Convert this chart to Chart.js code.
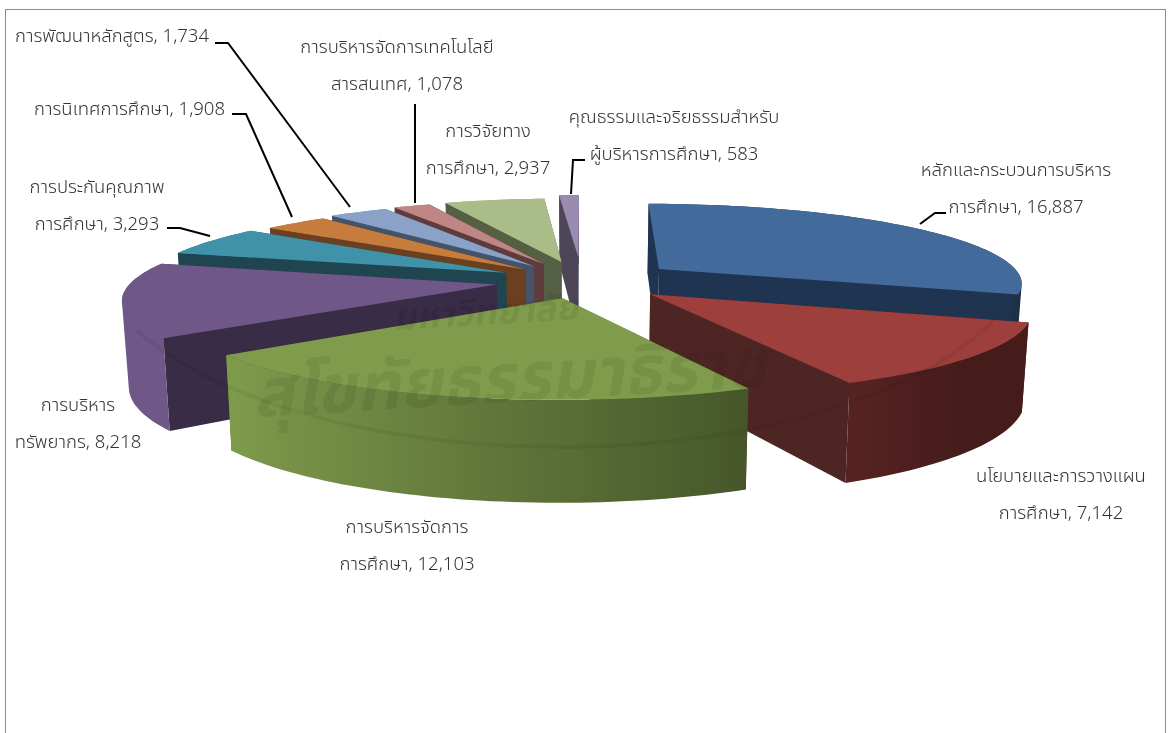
<!DOCTYPE html>
<html>
<head>
<meta charset="utf-8">
<style>
  html, body { margin: 0; padding: 0; background: #fff; }
  canvas { display: block; }
</style>
<script src="https://cdn.jsdelivr.net/npm/chart.js@4/dist/chart.umd.min.js"></script>
</head>
<body>
<canvas id="myChart" width="1168" height="733"></canvas>
<script>
// data
const categories = [
  ['หลักและกระบวนการบริหาร', 'การศึกษา'],
  ['นโยบายและการวางแผน', 'การศึกษา'],
  ['การบริหารจัดการ', 'การศึกษา'],
  ['การบริหาร', 'ทรัพยากร'],
  ['การประกันคุณภาพ', 'การศึกษา'],
  ['การนิเทศการศึกษา'],
  ['การพัฒนาหลักสูตร'],
  ['การบริหารจัดการเทคโนโลยี', 'สารสนเทศ'],
  ['การวิจัยทาง', 'การศึกษา'],
  ['คุณธรรมและจริยธรรมสำหรับ', 'ผู้บริหารการศึกษา'],
];
const values = [16887, 7142, 12103, 8218, 3293, 1908, 1734, 1078, 2937, 583];

// styles
const topColors = ['#426b9c', '#9c3f3d', '#7f9c4c', '#6f5788', '#3f92a8', '#c67c3c', '#8aa2c8', '#c08686', '#aabd88', '#9a8bb2'];
const wallColors = ['#1f3450', '#4d2624', '#4a5e30', '#382c46', '#1f4550', '#6a4020', '#44526a', '#5e3c3c', '#545f44', '#4c4658'];
const explode = [97, 89, 79, 86, 86, 79, 86, 90, 93, 114];
const drawOrder = [9, 8, 7, 6, 5, 4, 3, 0, 1, 2];

// label layout: [x, y of first line, align]
const labelPos = [
  [1016, 172, 'center'], [1061, 478, 'center'], [407, 529, 'center'], [78, 407, 'center'], [97, 189, 'center'],
  [225, 111, 'right'], [209, 38, 'right'], [397, 49, 'center'], [488, 133, 'center'], [674, 119, 'center'],
];
const leaders = {
  0: [[946, 213], [935, 213], [920, 224]],
  4: [[167, 228], [180, 228], [210, 236]],
  5: [[232, 114], [246, 114], [292, 217]],
  6: [[215, 43], [228, 43], [350, 207]],
  7: [[415, 104], [415, 203]],
  9: [[585, 160], [573, 160], [571, 194]],
};

const PIE_X = 582, PIE_Y = 281, R_PX = 365, PERSP = 0.16, TILT = 0.217, DEPTH = 83, FOOT = 0.985;
const FONT = '300 18.5px "Noto Sans Thai", "Noto Sans Thai Looped", "Noto Sans", "Liberation Sans", sans-serif';

function shade(hex, f) {
  const n = parseInt(hex.slice(1), 16);
  return 'rgb(' + [(n >> 16) & 255, (n >> 8) & 255, n & 255].map(c => Math.round(c * f)).join(',') + ')';
}

// perspective projection of a point on the pie plane, in pixels from the pie centre
function project(U, V) {
  const s = 1 / (1 - PERSP * V / R_PX);
  const x = PIE_X + U * s;
  const y = PIE_Y + TILT * V * s;
  return { x, y, bx: PIE_X + (x - PIE_X) * FOOT, by: y + DEPTH * s };
}

function fillPoly(ctx, pts, color) {
  ctx.beginPath();
  pts.forEach((p, i) => i ? ctx.lineTo(p[0], p[1]) : ctx.moveTo(p[0], p[1]));
  ctx.closePath();
  ctx.fillStyle = color;
  ctx.fill();
}

// angles along a slice's rim, with nodes at the left and right extremes so the wall splits cleanly
function rimAngles(start, end) {
  const steps = Math.max(2, Math.ceil((end - start) * 40));
  const list = [];
  for (let k = 0; k <= steps; k++) list.push(start + (end - start) * k / steps);
  [0, Math.PI, 2 * Math.PI].forEach(a => { if (a > start && a < end) list.push(a); });
  return list.sort((a, b) => a - b);
}

// rim wall as one path of same-handed quads, so it has no seams and no hole where it folds
function fillRimWall(ctx, part, color) {
  ctx.beginPath();
  for (let k = 0; k < part.length - 1; k++) {
    const a = part[k].p, b = part[k + 1].p;
    let quad = [[a.x, a.y], [b.x, b.y], [b.bx, b.by], [a.bx, a.by]];
    let area = 0;
    quad.forEach((q, n) => {
      const r = quad[(n + 1) % 4];
      area += q[0] * r[1] - r[0] * q[1];
    });
    if (area < 0) quad = quad.reverse();
    quad.forEach((q, n) => n ? ctx.lineTo(q[0], q[1]) : ctx.moveTo(q[0], q[1]));
    ctx.closePath();
  }
  ctx.fillStyle = color;
  ctx.fill();
}

function drawSlice(ctx, arc, i) {
  const mid = (arc.startAngle + arc.endAngle) / 2;
  const off = arc.options.offset;
  const ox = Math.cos(mid) * off, oy = Math.sin(mid) * off;
  const rim = rimAngles(arc.startAngle, arc.endAngle).map(a => (
    { a, p: project(ox + Math.cos(a) * R_PX, oy + Math.sin(a) * R_PX) }
  ));
  const apex = project(ox, oy);
  const wall = (a, b, c) => fillPoly(ctx, [[a.x, a.y], [b.x, b.y], [b.bx, b.by], [a.bx, a.by]], c);
  const rimWall = (front) => {
    const part = rim.filter(r => front ? Math.sin(r.a) > -1e-9 : Math.sin(r.a) < 1e-9);
    if (part.length < 2) return;
    const x0 = Math.min(...part.map(r => r.p.x)), x1 = Math.max(...part.map(r => r.p.x));
    const grad = ctx.createLinearGradient(x0, 0, x1, 0);
    part.forEach(r => {
      // light comes from the left
      const t = Math.min(1, Math.max(0, (Math.cos(r.a) + 0.8) / 1.5));
      grad.addColorStop((r.p.x - x0) / (x1 - x0), shade(topColors[i], 1 - 0.55 * t));
    });
    fillRimWall(ctx, part, grad);
  };
  rimWall(false);
  wall(apex, rim[0].p, wallColors[i]);
  wall(apex, rim[rim.length - 1].p, wallColors[i]);
  rimWall(true);
  fillPoly(ctx, [[apex.x, apex.y]].concat(rim.map(r => [r.p.x, r.p.y])), topColors[i]);
}

// faint seal of the scanned page, lies over the whole picture
function drawWatermark(ctx) {
  ctx.save();
  ctx.strokeStyle = 'rgba(0,0,0,0.05)';
  ctx.lineWidth = 4;
  ctx.beginPath();
  ctx.ellipse(560, 240, 470, 207, 0, 0.35, Math.PI - 0.45);
  ctx.stroke();
  ctx.fillStyle = 'rgba(0,0,0,0.07)';
  ctx.textAlign = 'center';
  ctx.textBaseline = 'middle';
  ctx.translate(510, 388);
  ctx.rotate(-0.06);
  ctx.font = 'italic 700 68px "Noto Sans Thai", "Noto Sans", sans-serif';
  ctx.fillText('สุโขทัยธรรมาธิราช', 0, 0, 590);
  ctx.font = 'italic 700 36px "Noto Sans Thai", "Noto Sans", sans-serif';
  ctx.fillText('มหาวิทยาลัย', -20, -72, 240);
  ctx.restore();
}

const pie3d = {
  id: 'pie3d',
  beforeDatasetsDraw(chart) {
    const ctx = chart.ctx;
    const arcs = chart.getDatasetMeta(0).data;
    ctx.save();
    ctx.strokeStyle = '#8c8c8c';
    ctx.lineWidth = 1;
    ctx.strokeRect(5.5, 9.5, 1160, 800);
    drawOrder.forEach(i => drawSlice(ctx, arcs[i], i));
    ctx.restore();
    return false;
  },
  afterDraw(chart) {
    const ctx = chart.ctx;
    drawWatermark(ctx);
    ctx.save();
    ctx.strokeStyle = '#000';
    ctx.lineWidth = 2;
    Object.values(leaders).forEach(pts => {
      ctx.beginPath();
      pts.forEach((p, k) => k ? ctx.lineTo(p[0], p[1]) : ctx.moveTo(p[0], p[1]));
      ctx.stroke();
    });
    ctx.font = FONT;
    ctx.fillStyle = '#333';
    ctx.textBaseline = 'middle';
    categories.forEach((lines, i) => {
      const [x, y, align] = labelPos[i];
      const text = lines.slice();
      text[text.length - 1] += ', ' + values[i].toLocaleString('en-US');
      ctx.textAlign = align;
      text.forEach((t, k) => ctx.fillText(t, x, y + k * 37));
    });
    ctx.restore();
  },
};

new Chart(document.getElementById('myChart'), {
  type: 'pie',
  data: {
    labels: categories.map(c => c.join('')),
    datasets: [{ data: values, backgroundColor: topColors, borderWidth: 0, offset: explode }],
  },
  options: {
    responsive: false,
    animation: false,
    rotation: 0,
    plugins: { legend: { display: false }, tooltip: { enabled: false } },
  },
  plugins: [pie3d],
});
</script>
</body>
</html>
